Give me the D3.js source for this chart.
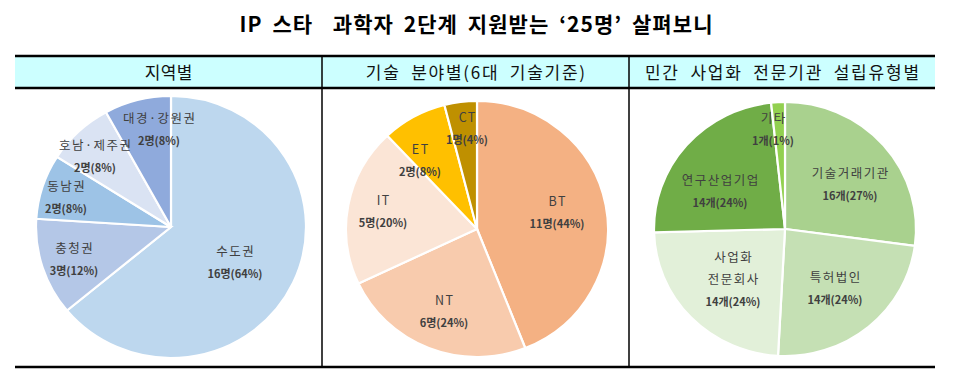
<!DOCTYPE html>
<html><head><meta charset="utf-8">
<script src="https://cdn.jsdelivr.net/npm/d3@7"></script>
<style>
html,body{margin:0;padding:0;background:#fff;}
text{font-family:"Noto Sans CJK KR","Noto Sans",sans-serif;}
</style></head>
<body>
<svg id="chart" width="953" height="386"></svg>
<script>
// ---- data ----
const titleText = "IP 스타  과학자 2단계 지원받는 ‘25명’ 살펴보니";
const panelTitles = ["지역별", "기술 분야별(6대 기술기준)", "민간 사업화 전문기관 설립유형별"];

const regionNames = ["수도권", "충청권", "동남권", "호남·제주권", "대경·강원권"];
const regionValues = [16, 3, 2, 2, 2];
const regionLabels = ["16명(64%)", "3명(12%)", "2명(8%)", "2명(8%)", "2명(8%)"];

const techNames = ["BT", "NT", "IT", "ET", "CT"];
const techValues = [11, 6, 5, 2, 1];
const techLabels = ["11명(44%)", "6명(24%)", "5명(20%)", "2명(8%)", "1명(4%)"];

const orgNames = ["기술거래기관", "특허법인", "사업화\n전문회사", "연구산업기업", "기타"];
const orgValues = [16, 14, 14, 14, 1];
const orgLabels = ["16개(27%)", "14개(24%)", "14개(24%)", "14개(24%)", "1개(1%)"];

// ---- styles / layout ----
const regionColors = ["#BDD7EE", "#B4C7E7", "#9DC3E6", "#DAE3F3", "#8FAADC"];
const techColors = ["#F4B183", "#F8CBAD", "#FBE5D6", "#FFC000", "#BF9000"];
const orgColors = ["#A9D18E", "#C5E0B4", "#E2F0D9", "#70AD47", "#92D050"];

const pies = [
  {names: regionNames, values: regionValues, labels: regionLabels, colors: regionColors,
   cx: 171, cy: 227, rx: 135, ry: 131,
   lab: [[64, 36], [-97, 33], [-105, -29], [-76, -70], [-12, -97]]},
  {names: techNames, values: techValues, labels: techLabels, colors: techColors,
   cx: 477, cy: 229, rx: 131, ry: 128,
   lab: [[80, -16], [-33, 83], [-94, -17], [-57, -68], [-10, -100]]},
  {names: orgNames, values: orgValues, labels: orgLabels, colors: orgColors,
   cx: 785, cy: 229, rx: 131, ry: 127,
   lab: [[65, -44], [50, 60], [-52, 51], [-65, -37], [-12, -99]]}
];

const svg = d3.select("#chart");

function fitText(sel, target, ws) {
  sel.attr("word-spacing", ws);
  const w = sel.node().getComputedTextLength();
  const n = sel.text().length;
  if (w < target && n > 1) {
    const ls = (target - w) / n;
    sel.attr("letter-spacing", ls).attr("x", +sel.attr("x") + ls / 2);
  }
}

// title
const t = svg.append("text")
  .attr("x", 476).attr("y", 32)
  .attr("text-anchor", "middle")
  .attr("font-size", 21).attr("font-weight", "bold").attr("fill", "#000")
  .style("white-space", "pre")
  .text(titleText);
fitText(t, 474, 4);

// table frame
const L = 15, R = 935, yTop = 56, yHead = 88, yBot = 367;
const xs = [322, 629];
svg.append("rect").attr("x", L).attr("y", yTop).attr("width", R - L).attr("height", yHead - yTop).attr("fill", "#CCFFFF");
svg.selectAll("line.v").data(xs).join("line").attr("class", "v")
  .attr("x1", d => d).attr("x2", d => d).attr("y1", yTop).attr("y2", yBot)
  .attr("stroke", "#000").attr("stroke-width", 1.5);
[yTop, yHead, yBot].forEach(y => {
  svg.append("line").attr("x1", L).attr("x2", R).attr("y1", y).attr("y2", y)
    .attr("stroke", "#000").attr("stroke-width", 2.5);
});
const colCenters = [(L + xs[0]) / 2, (xs[0] + xs[1]) / 2, (xs[1] + R) / 2];
const headTargets = [48, 221, 276];
panelTitles.forEach((s, i) => {
  const h = svg.append("text")
    .attr("x", colCenters[i]).attr("y", 79)
    .attr("text-anchor", "middle").attr("font-size", 17).attr("fill", "#111")
    .text(s);
  fitText(h, headTargets[i], 5);
});

// pies
pies.forEach(p => {
  const pie = d3.pie().sort(null).value(d => d)(p.values);
  const arc = d3.arc().innerRadius(0).outerRadius(p.rx);
  const g = svg.append("g").attr("transform", `translate(${p.cx},${p.cy}) scale(1,${p.ry / p.rx})`);
  g.selectAll("path").data(pie).join("path")
    .attr("d", arc)
    .attr("fill", (d, i) => p.colors[i])
    .attr("stroke", "#fff").attr("stroke-width", 2.2);
  const lg = svg.append("g").attr("transform", `translate(${p.cx},${p.cy})`);
  pie.forEach((d, i) => {
    const lines = p.names[i].split("\n");
    const all = lines.concat([p.labels[i]]);
    const lh = 22;
    const y0 = p.lab[i][1] - (all.length - 1) * lh / 2;
    all.forEach((s, j) => {
      const isVal = j === all.length - 1;
      lg.append("text")
        .attr("x", p.lab[i][0] + (isVal ? 0 : 0.75)).attr("y", y0 + j * lh)
        .attr("dy", "0.35em")
        .attr("text-anchor", "middle")
        .attr("font-size", isVal ? 11 : 12.5)
        .attr("font-weight", isVal ? "bold" : "normal")
        .attr("letter-spacing", isVal ? 0 : 1.5)
        .attr("fill", "#404040")
        .text(s);
    });
  });
});
</script>
</body></html>
